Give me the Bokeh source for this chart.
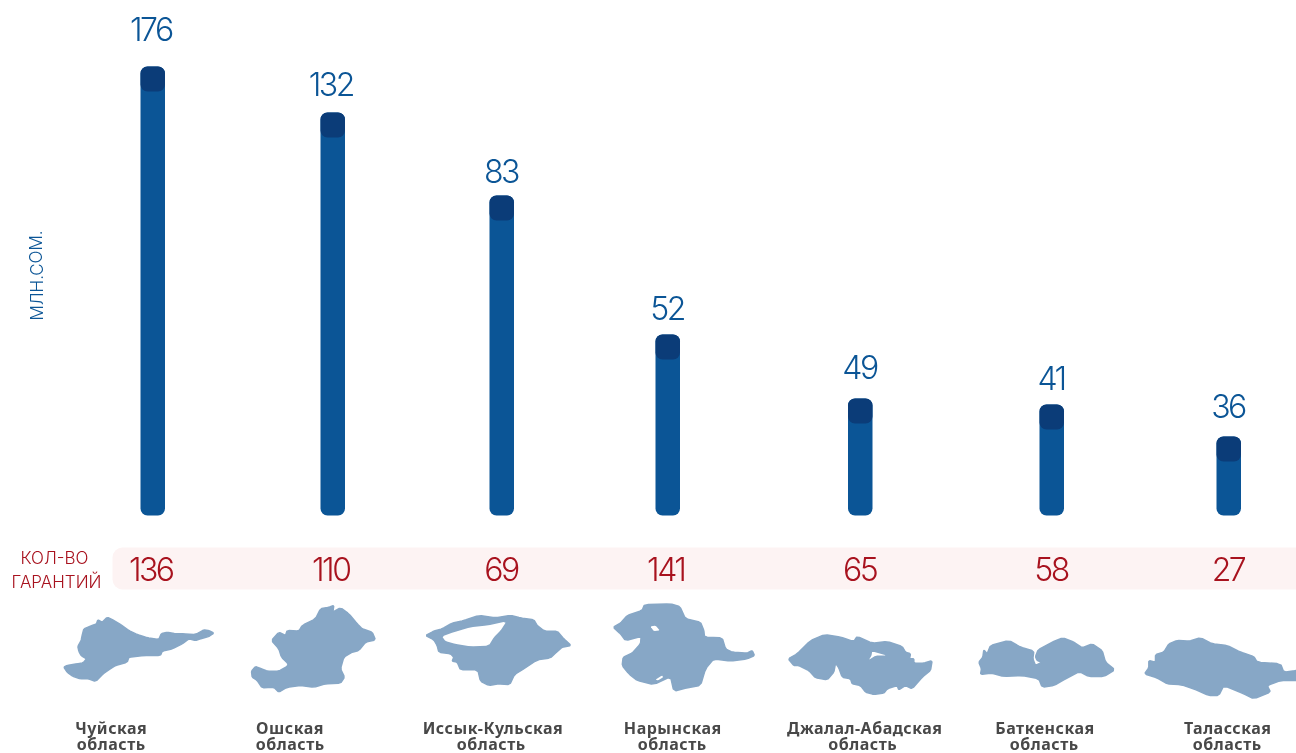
from bokeh.plotting import figure
from bokeh.models import Range1d
from bokeh.core.properties import value
from bokeh.embed import file_html
from bokeh.resources import INLINE

regions = ["Чуйская", "Ошская", "Иссык-Кульская", "Нарынская", "Джалал-Абадская", "Баткенская", "Таласская"]
amounts = [176, 132, 83, 52, 49, 41, 36]
guarantees = [136, 110, 69, 141, 65, 58, 27]
# the source's bars are not proportional to their labels: heights
bar_heights = [449, 403, 320, 181, 117, 111, 79]
bar_centers = [152.5, 332.5, 501.5, 667.5, 860, 1051.5, 1228.5]
label_gaps = [38, 29, 25, 27, 32, 27, 31]

BLUE, CAP, RED, MAP = "#0b5596", "#0b3c78", "#a8121e", "#87a7c6"
LIGHT = value("Inter Light")
BASE = 515

def layer(**styles):
    return figure(width=1296, height=753, output_backend="svg", toolbar_location=None,
                  x_range=Range1d(0, 1296), y_range=Range1d(BASE - 753, BASE),
                  min_border=0, outline_line_color=None, background_fill_color=None, border_fill_color=None,
                  x_axis_type=None, y_axis_type=None,
                  styles={"position": "fixed", "left": "0px", "top": "0px", **styles})

p = layer()
# transparent layers: letter-spacing is inherited, so the big digits and the region names each get their own
q = layer(**{"letter-spacing": "-2.5px"})
r = layer(**{"letter-spacing": "0.5px"})
for f in (p, q, r):
    f.grid.visible = False
Y = lambda py: BASE - py

# bars and darker caps
p.vbar(x=[c - 0.25 for c in bar_centers], width=24.5, bottom=0, top=bar_heights, fill_color=BLUE, line_color=None, border_radius=7)
p.vbar(x=[c - 0.25 for c in bar_centers], width=24.5, bottom=[h - 25 for h in bar_heights], top=bar_heights,
       fill_color=CAP, line_color=None, border_radius=7)
q.text(x=[c + 1.5 for c in bar_centers], y=[h + g for h, g in zip(bar_heights, label_gaps)],
       text=[str(a) for a in amounts],
       text_font=LIGHT, text_font_size="32px", text_color=BLUE, text_align="center", text_baseline="middle")

# guarantees band
p.quad(left=[112], right=[1320], top=[Y(547)], bottom=[Y(589)], fill_color="#fdf3f3", line_color=None, border_radius=10)
q.text(x=[c + 1.5 for c in bar_centers], y=[Y(568)] * 7, text=[str(g) for g in guarantees],
       text_font=LIGHT, text_font_size="32px", text_color=RED, text_align="center", text_baseline="middle")
p.text(x=[54, 56], y=[Y(557), Y(581)], text=["КОЛ-ВО", "ГАРАНТИЙ"], text_font=LIGHT, text_font_size="17px",
       text_color=RED, text_align="center", text_baseline="middle")
p.text(x=[36], y=[Y(275)], text=["МЛН.СОМ."], angle=1.5708, text_font=LIGHT, text_font_size="17px",
       text_color=BLUE, text_align="center", text_baseline="middle")

# region outlines, traced at 3x zoom: (origin x, origin y), points
maps = [
 ((60, 610), [(10,170),(20,165),(50,160),(68,157),(78,145),(62,135),(55,122),(52,108),(62,90),(65,75),(70,55),(95,45),(108,40),(112,28),(125,35),(140,20),(160,30),(180,42),(205,60),(230,72),(260,82),(295,87),(302,70),(320,65),(345,70),(370,70),(405,72),(430,58),(445,60),(460,68),(445,78),(420,85),(405,90),(385,85),(365,100),(335,115),(305,122),(300,135),(250,135),(205,140),(200,155),(165,165),(145,178),(128,190),(105,213),(85,205),(60,205),(38,198),(20,185)]),
 ((245, 600), [(18,212),(30,198),(48,205),(65,212),(100,212),(125,198),(128,190),(108,170),(100,145),(78,120),(100,95),(120,105),(125,90),(160,92),(170,75),(210,55),(225,25),(250,20),(265,15),(262,35),(285,22),(310,40),(335,70),(350,85),(380,95),(390,118),(360,125),(340,150),(320,155),(295,170),(285,205),(297,230),(285,248),(240,250),(205,260),(165,255),(125,260),(100,275),(85,260),(50,262),(35,240),(20,230)]),
 ((420, 610), [(15,75),(40,62),(65,55),(95,38),(130,30),(175,15),(225,22),(270,15),(300,22),(340,28),(350,45),(372,62),(410,62),(430,85),(452,105),(425,110),(408,125),(390,142),(350,148),(310,175),(282,192),(268,222),(235,220),(205,225),(180,212),(172,178),(120,178),(110,155),(95,152),(100,140),(90,130),(55,125),(50,105),(40,88)]),
 ((610, 600), [(8,80),(30,68),(50,45),(95,30),(102,12),(180,10),(208,18),(225,55),(270,65),(280,90),(282,110),(335,112),(345,145),(365,155),(410,158),(425,150),(432,165),(410,175),(360,182),(310,175),(285,205),(270,255),(230,262),(190,272),(180,228),(130,252),(80,240),(55,220),(35,195),(38,170),(65,158),(90,130),(92,108),(45,120),(30,100)]),
 ((785, 630), [(8,85),(35,70),(75,30),(118,12),(165,20),(205,33),(215,18),(260,38),(305,33),(350,48),(360,65),(375,70),(372,85),(385,85),(385,98),(415,98),(440,90),(435,120),(410,140),(380,175),(360,165),(340,178),(335,165),(305,175),(295,188),(265,192),(240,185),(225,165),(200,160),(195,145),(170,140),(160,112),(150,98),(145,125),(125,148),(90,142),(70,120),(40,105),(25,105)]),
 ((975, 630), [(10,95),(22,80),(25,58),(35,70),(45,45),(100,30),(135,50),(175,62),(172,85),(180,105),(200,95),(185,90),(180,78),(188,58),(230,35),(262,22),(295,35),(320,52),(350,40),(380,60),(390,95),(418,118),(385,138),(340,138),(312,123),(270,145),(235,165),(200,170),(190,145),(140,135),(85,138),(50,128),(15,132),(18,115)]),
 ((1140, 630), [(12,130),(25,112),(25,90),(45,95),(45,72),(70,65),(85,40),(110,30),(145,32),(180,22),(215,40),(260,45),(300,65),(340,78),(350,95),(420,100),(430,125),(468,120),(475,115),(475,150),(420,150),(380,165),(390,185),(340,205),(310,190),(250,165),(235,195),(205,195),(160,175),(120,162),(80,160),(50,142)]),
]
holes = [
 ((420, 610), [(65,78),(100,65),(150,50),(200,45),(258,33),(240,60),(220,80),(205,105),(150,108),(105,100),(75,92)]),
 ((610, 600), [(120,78),(135,75),(148,90),(130,92)]),
 ((610, 600), [(135,237),(155,225),(158,230),(142,240)]),
 ((785, 630), [(260,63),(305,75),(270,75),(250,88),(258,75)]),
]
def rounded(pts):
    # one round of corner cutting: the hand-traced outlines are otherwise too angular
    out = []
    for (x0, y0), (x1, y1) in zip(pts, pts[1:] + pts[:1]):
        out += [(0.85 * x0 + 0.15 * x1, 0.85 * y0 + 0.15 * y1), (0.15 * x0 + 0.85 * x1, 0.15 * y0 + 0.85 * y1)]
    return out
def unzoom(shapes):
    xs = [[ox + x / 3 for x, _ in rounded(pts)] for (ox, _), pts in shapes]
    ys = [[Y(oy + y / 3) for _, y in rounded(pts)] for (_, oy), pts in shapes]
    return xs, ys
mx, my = unzoom(maps)
p.patches(mx, my, fill_color=MAP, line_color=MAP, line_width=1.5)
hx, hy = unzoom(holes)
p.patches(hx, hy, fill_color="white", line_color=None)

# region names
label_x = [109, 288, 489, 670, 860.5, 1042, 1225]
FONT = value("Noto Sans")
r.text(x=label_x, y=[Y(727)] * 7, text=regions, text_font=FONT, text_font_style="bold", text_font_size="16px",
       text_color="#484848", text_align="center", text_baseline="middle")
r.text(x=label_x, y=[Y(743)] * 7, text=["область"] * 7, text_font=FONT, text_font_style="bold", text_font_size="16px",
       text_color="#484848", text_align="center", text_baseline="middle")

open("out.html", "w").write(file_html([p, q, r], INLINE))
